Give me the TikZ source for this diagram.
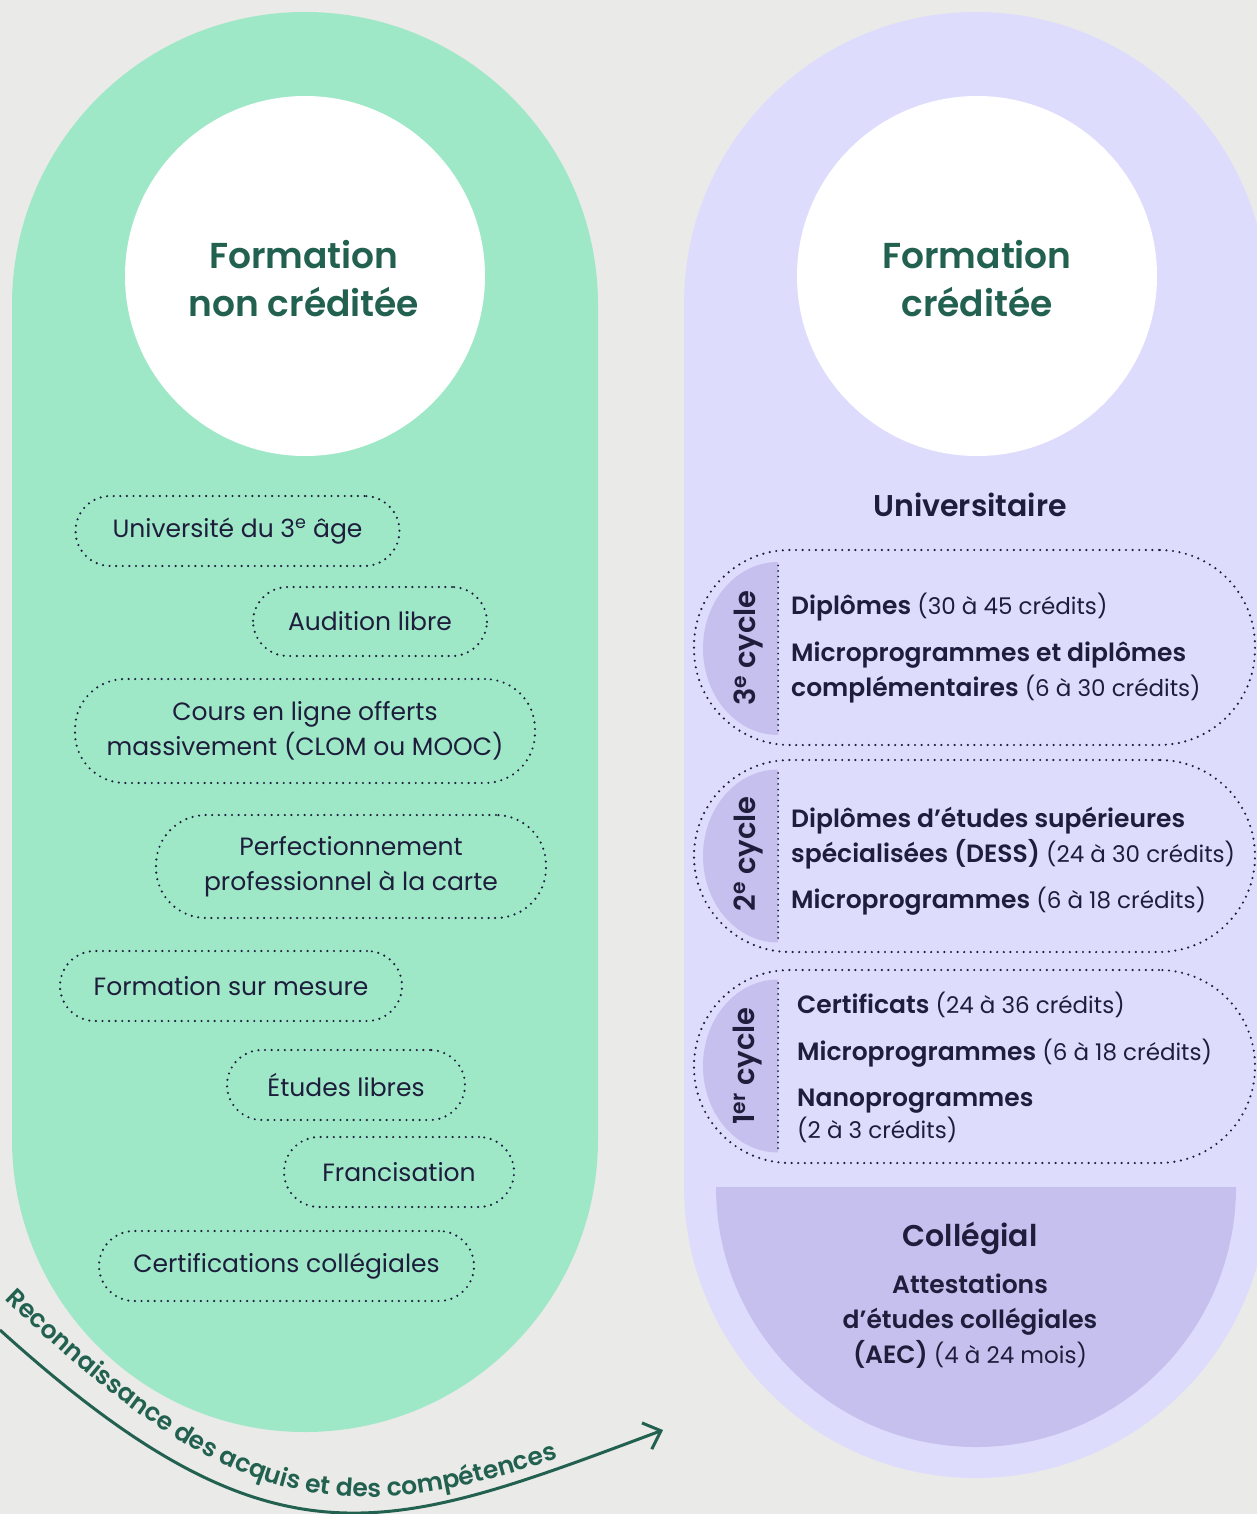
\documentclass[tikz,border=0pt]{standalone}
\usepackage{fontspec}
\setmainfont{Poppins}[BoldFont={Poppins SemiBold}]
\usetikzlibrary{arrows.meta,decorations.text}

\definecolor{fond}{HTML}{EAEAE8}
\definecolor{menthe}{HTML}{9EE8C8}
\definecolor{lilas}{HTML}{DEDCFC}
\definecolor{lilasfonce}{HTML}{C6C0EE}
\definecolor{encre}{HTML}{1E1E3C}
\definecolor{sapin}{HTML}{22614F}

\newcommand\corps{\fontsize{25}{35}\selectfont}
\newcommand\corpsdroit{\fontsize{23}{35}\selectfont}
\newcommand\gras[1]{{\bfseries\fontsize{25}{35}\selectfont #1}}

\tikzset{
  bulle/.style={draw=encre, line width=2.4pt, dash pattern=on 0pt off 6.6pt, line cap=round,
    rounded corners=35pt, inner sep=0pt, align=center, text=encre, font=\corps},
  cadre/.style={draw=encre, line width=2.4pt, dash pattern=on 0pt off 6.6pt, line cap=round,
    rounded corners=96pt, minimum width=561pt, inner sep=0pt},
  ligne/.style={anchor=base west, inner sep=0pt, text=encre, font=\corpsdroit},
  cyclelabel/.style={rotate=90, inner sep=0pt, text=encre, font=\bfseries\fontsize{29}{30}\selectfont},
  titre/.style={align=center, inner sep=0pt, text=sapin, font=\bfseries\fontsize{36}{48}\selectfont},
  soustitre/.style={inner sep=0pt, text=encre, font=\bfseries\fontsize{30}{36}\selectfont},
}

\begin{document}
\begin{tikzpicture}[x=1pt,y=-1pt]
\useasboundingbox (0,0) rectangle (1257,1514);
\clip (0,0) rectangle (1257,1514);
\fill[fond] (0,0) rectangle (1257,1514);

% les deux grandes capsules
\fill[menthe] (12,305) arc[start angle=180,end angle=360,radius=293] -- (598,1139)
  arc[start angle=0,end angle=180,radius=293] -- cycle;
\fill[lilas] (684,304) arc[start angle=180,end angle=360,radius=292] -- (1268,1186)
  arc[start angle=0,end angle=180,radius=292] -- cycle;
\fill[white] (305,276) circle[radius=180pt];
\fill[white] (977,276) circle[radius=180pt];

\node[titre] (tgauche) at (304,279) {Formation\\non créditée};
\node[titre] (tdroite) at (977,279) {Formation\\créditée};

% formation non creditee
\node[bulle, minimum width=324pt, minimum height=70pt] (uta) at (237.5,531) {Université du 3\textsuperscript{e} âge};
\node[bulle, minimum width=234pt, minimum height=69pt] (audition) at (370,621.5) {Audition libre};
\node[bulle, minimum width=460pt, minimum height=104pt, rounded corners=50pt] (clom) at (305,731) {Cours en ligne offerts\\massivement (CLOM ou MOOC)};
\node[bulle, minimum width=390pt, minimum height=103pt, rounded corners=50pt] (perf) at (351,866.5) {Perfectionnement\\professionnel à la carte};
\node[bulle, minimum width=342pt, minimum height=70pt] (mesure) at (231,986) {Formation sur mesure};
\node[bulle, minimum width=238pt, minimum height=70pt] (libres) at (346,1085) {Études libres};
\node[bulle, minimum width=230pt, minimum height=70pt] (francisation) at (399,1172) {Francisation};
\node[bulle, minimum width=375pt, minimum height=70pt] (certif) at (286.5,1266) {Certifications collégiales};

% formation creditee
\node[soustitre] (univ) at (970,505) {Universitaire};

\node[cadre, minimum height=195pt] (cycle3) at (974.5,647.5) {};
\node[cadre, minimum height=192pt] (cycle2) at (974.5,856) {};
\node[cadre, minimum height=193pt] (cycle1) at (974.5,1066.5) {};

\foreach \cy in {648.5,856,1066}{
  \fill[lilasfonce] (778,\cy-86.5) arc[start angle=-90,end angle=-270,x radius=75,y radius=86.5] -- cycle;
  \draw[encre, line width=2pt, dash pattern=on 0pt off 5.5pt, line cap=round] (778,\cy-83) -- (778,\cy+83);
}

\node[cyclelabel] (lab3) at (748,648) {3\textsuperscript{e} cycle};
\node[cyclelabel] (lab2) at (748,854) {2\textsuperscript{e} cycle};
\node[cyclelabel] (lab1) at (748,1066) {1\textsuperscript{er} cycle};

\node[ligne] (dipl3) at (791,614) {\gras{Diplômes} (30 à 45 crédits)};
\node[ligne] (micro3a) at (791,661) {\gras{Microprogrammes et diplômes}};
\node[ligne] (micro3b) at (791,696) {\gras{complémentaires} (6 à 30 crédits)};

\node[ligne] (dessa) at (791,827) {\gras{Diplômes d’études supérieures}};
\node[ligne] (dessb) at (791,862) {\gras{spécialisées (DESS)} (24 à 30 crédits)};
\node[ligne] (micro2) at (791,908) {\gras{Microprogrammes} (6 à 18 crédits)};

\node[ligne] (certifs) at (797,1013) {\gras{Certificats} (24 à 36 crédits)};
\node[ligne] (micro1) at (797,1060) {\gras{Microprogrammes} (6 à 18 crédits)};
\node[ligne] (nanoa) at (797,1106) {\gras{Nanoprogrammes}};
\node[ligne] (nanob) at (797,1138) {(2 à 3 crédits)};

% collegial
\fill[lilasfonce] (716,1187) arc[start angle=180,end angle=0,radius=260] -- cycle;
\node[soustitre] (coll) at (970,1238) {Collégial};
\node[align=center, inner sep=0pt, text=encre, font=\corpsdroit] (aec) at (970,1321)
  {\gras{Attestations}\\\gras{d’études collégiales}\\\gras{(AEC)} (4 à 24 mois)};

% reconnaissance des acquis
\coordinate (depart) at (0,1330);
\coordinate (arrivee) at (663,1430);
\coordinate (txtdepart) at (5,1299);
\coordinate (txtfin) at (663,1422);
\draw[sapin, line width=3pt, -{Straight Barb[length=15pt,width=28pt]}]
  (depart) .. controls (274,1578) and (385,1534) .. (arrivee);
\path[decorate, decoration={text along path, text align=left, text color=sapin,
    text={|\bfseries\fontsize{25}{26}\selectfont|Reconnaissance des acquis et des compétences}}]
  (txtdepart) .. controls (272,1558) and (385,1522) .. (txtfin);
\end{tikzpicture}
\end{document}
